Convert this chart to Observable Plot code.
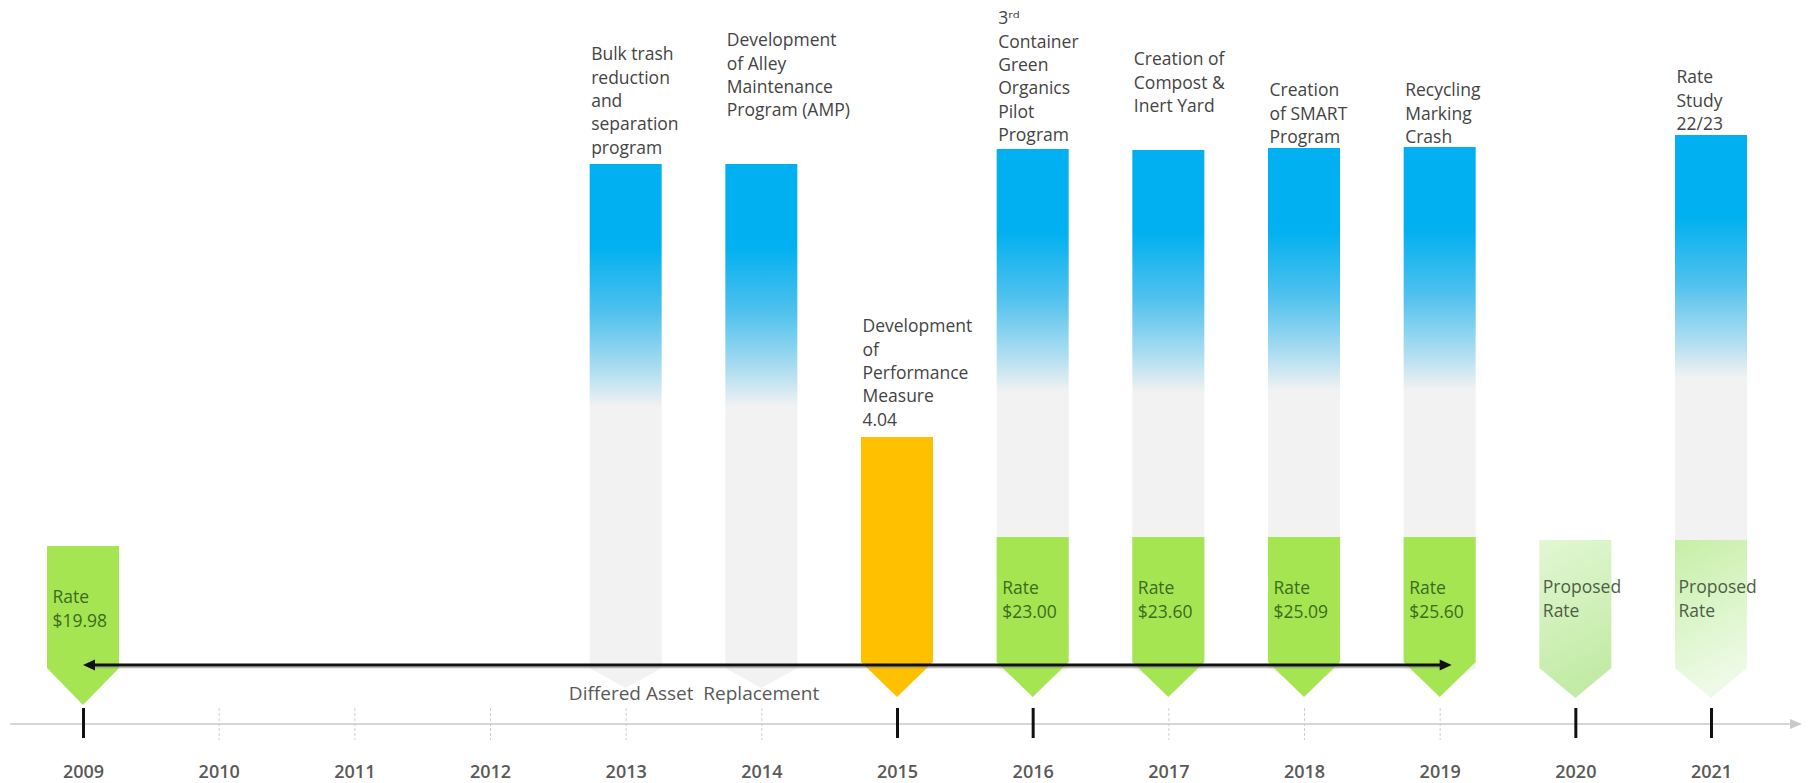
<!DOCTYPE html>
<html><head><meta charset="utf-8">
<script src="https://cdn.jsdelivr.net/npm/d3@7"></script>
<script src="https://cdn.jsdelivr.net/npm/@observablehq/plot@0.6"></script>
<style>
html,body{margin:0;padding:0;background:#fff;overflow:hidden;}
#chart svg{display:block;}
</style></head><body><div id="chart"></div>
<script>
// ================= DATA =================
const years = [2009, 2010, 2011, 2012, 2013, 2014, 2015, 2016, 2017, 2018, 2019, 2020, 2021];
const highlightedYears = [2009, 2015, 2016, 2020, 2021];

const eventYears = [2013, 2014, 2016, 2017, 2018, 2019, 2021];
const eventLabels = [
  "Bulk trash\nreduction\nand\nseparation\nprogram",
  "Development\nof Alley\nMaintenance\nProgram (AMP)",
  "3ʳᵈ\nContainer\nGreen\nOrganics\nPilot\nProgram",
  "Creation of\nCompost &\nInert Yard",
  "Creation\nof SMART\nProgram",
  "Recycling\nMarking\nCrash",
  "Rate\nStudy\n22/23"
];

const milestoneYear = 2015;
const milestoneLabel = "Development\nof\nPerformance\nMeasure\n4.04";

const rateYears = [2009, 2016, 2017, 2018, 2019];
const rateValues = [19.98, 23.00, 23.60, 25.09, 25.60];

const proposedYears = [2020, 2021];
const proposedLabel = "Proposed\nRate";

const deferredSpan = [2013, 2014];
const deferredLabel = "Differed Asset  Replacement";

const rateSpan = [2009, 2019];

// ================= LAYOUT / STYLE =================
const W = 1812, H = 783;
const FONT = "'Open Sans', 'DejaVu Sans', sans-serif";
const HALF = 36;                       // half column width (px)
const FS = 17.5, LH = 1.34;            // label font size / line height
const L = {
  axis: 724, tickTop: 708, tickBottom: 738, yearLabel: 772,
  spanArrow: 665,
  colShoulder: 668, colTip: 688,
  rateTop: 537, rateShoulder: 662, rateTip: 697,
  firstRateTop: 546, firstRateShoulder: 668, firstRateTip: 705,
  msTop: 437, msShoulder: 662, msTip: 697,
  deferredLabel: 693
};
const columnTop = {2013: 164, 2014: 164, 2016: 149, 2017: 150, 2018: 148, 2019: 147, 2021: 135};
const labelLine1 = {2013: 53, 2014: 39, 2015: 325, 2016: 17, 2017: 58, 2018: 89, 2019: 89, 2021: 76};
const C = {
  blue: "#00B0F0", gray: "#F2F2F2", green: "#A6E552", orange: "#FFC000",
  text: "#444444", rateText: "#3B6B1E", propText: "#4E5E47", year: "#595959",
  axis: "#C9C9C9", tickLight: "#CFCFCF"
};
const propGradients = {2020: ["#E2F7D3", "#C2EBA6"], 2021: ["#C6EFA6", "#EEFAE7"]}; // top, bottom

// ================= TABLES =================
const events = eventYears.map((year, i) => ({year, label: eventLabels[i]}));
const rates = rateYears.map((year, i) => ({year, value: rateValues[i]}));
const proposed = proposedYears.map(year => ({year, label: proposedLabel}));
const lightYears = years.filter(y => !highlightedYears.includes(y));

function pentPath(cx, t, s, p) {
  const path = d3.path();
  path.moveTo(cx - HALF, t); path.lineTo(cx + HALF, t); path.lineTo(cx + HALF, s);
  path.lineTo(cx, p); path.lineTo(cx - HALF, s); path.closePath();
  return path.toString();
}

// gradient event columns
const columnsMark = (index, {x, y}) => {
  const g = d3.create("svg:g");
  const defs = g.append("defs");
  for (const e of events) {
    const top = columnTop[e.year];
    const h = L.colTip - top;
    const grad = defs.append("linearGradient").attr("id", "col" + e.year)
      .attr("x1", 0).attr("y1", 0).attr("x2", 0).attr("y2", 1);
    [[0, C.blue], [82 / h, C.blue], [148 / h, "#4FC1EE"], [203 / h, "#A8DCF1"], [243 / h, C.gray], [1, C.gray]]
      .forEach(([o, c]) => grad.append("stop").attr("offset", o).attr("stop-color", c));
    g.append("path").attr("d", pentPath(x(e.year), y(top), y(L.colShoulder), y(L.colTip)))
      .attr("fill", `url(#col${e.year})`);
  }
  return g.node();
};

const milestoneMark = (index, {x, y}) => {
  const g = d3.create("svg:g");
  g.append("path").attr("d", pentPath(x(milestoneYear), y(L.msTop), y(L.msShoulder), y(L.msTip)))
    .attr("fill", C.orange);
  return g.node();
};

const rateTop = d => d.year === rateYears[0] ? L.firstRateTop : L.rateTop;
const ratesMark = (index, {x, y}) => {
  const g = d3.create("svg:g");
  for (const r of rates) {
    const first = r.year === rateYears[0];
    g.append("path").attr("d", pentPath(x(r.year), y(rateTop(r)),
      y(first ? L.firstRateShoulder : L.rateShoulder), y(first ? L.firstRateTip : L.rateTip)))
      .attr("fill", C.green);
  }
  return g.node();
};

const proposedMark = (index, {x, y}) => {
  const g = d3.create("svg:g");
  const defs = g.append("defs");
  for (const p of proposed) {
    const [c0, c1] = propGradients[p.year];
    const grad = defs.append("linearGradient").attr("id", "prop" + p.year)
      .attr("x1", 0).attr("y1", 0).attr("x2", 0.25).attr("y2", 1);
    [[0, c0], [1, c1]].forEach(([o, c]) => grad.append("stop").attr("offset", o).attr("stop-color", c));
    g.append("path").attr("d", pentPath(x(p.year), y(L.rateTop + 3), y(L.firstRateShoulder), y(L.rateTip + 1)))
      .attr("fill", `url(#prop${p.year})`);
  }
  return g.node();
};

const spanArrowMark = (index, {x, y}) => {
  const g = d3.create("svg:g");
  const x0 = x(rateSpan[0]), x1 = x(rateSpan[1]) + 12, yy = y(L.spanArrow);
  g.append("line").attr("x1", x0 + 8).attr("x2", x1 - 8).attr("y1", yy + 2.5).attr("y2", yy + 2.5)
    .attr("stroke", "#9A9A9A").attr("stroke-width", 1.5).attr("opacity", 0.7);
  g.append("line").attr("x1", x0 + 8).attr("x2", x1 - 8).attr("y1", yy).attr("y2", yy)
    .attr("stroke", "#111").attr("stroke-width", 3);
  g.append("path").attr("d", `M${x0},${yy}L${x0 + 12},${yy - 5.5}L${x0 + 12},${yy + 5.5}Z`).attr("fill", "#111");
  g.append("path").attr("d", `M${x1},${yy}L${x1 - 12},${yy - 5.5}L${x1 - 12},${yy + 5.5}Z`).attr("fill", "#111");
  return g.node();
};

const axisMark = (index, {y}, values, {width}) => {
  const g = d3.create("svg:g");
  const yy = y(L.axis);
  g.append("line").attr("x1", 10).attr("x2", width - 20).attr("y1", yy).attr("y2", yy)
    .attr("stroke", C.axis).attr("stroke-width", 1.5);
  g.append("path").attr("d", `M${width - 10},${yy}L${width - 22},${yy - 5}L${width - 22},${yy + 5}Z`).attr("fill", C.axis);
  return g.node();
};

const textBase = {fontFamily: FONT, fontSize: FS, lineHeight: LH, textAnchor: "start", lineAnchor: "top"};
const TOFF = 10; // first-line centre -> text top

const chart = Plot.plot({
  width: W, height: H, margin: 0,
  x: {type: "linear", domain: [years[0], years[years.length - 1]], range: [83, 1711], axis: null},
  y: {type: "linear", domain: [0, H], range: [0, H], axis: null},
  style: {fontFamily: FONT, background: "white", overflow: "visible"},
  marks: [
    columnsMark,
    milestoneMark,
    ratesMark,
    proposedMark,
    Plot.text([deferredSpan], {
      x: d => (d[0] + d[1]) / 2, y: L.deferredLabel, text: () => deferredLabel,
      fontFamily: FONT, fontSize: 19, fill: "#595959"
    }),
    spanArrowMark,
    axisMark,
    Plot.ruleX(lightYears, {x: d => d, y1: L.tickTop, y2: L.tickBottom + 2, stroke: C.tickLight, strokeWidth: 1, strokeDasharray: "3,2"}),
    Plot.ruleX(highlightedYears, {x: d => d, y1: L.tickTop, y2: L.tickBottom, stroke: "#111", strokeWidth: 3}),
    Plot.text(years, {x: d => d, y: L.yearLabel, text: d => String(d), fontFamily: FONT, fontSize: 18, fontWeight: 600, fill: C.year}),
    Plot.text(events, {...textBase, x: "year", y: d => labelLine1[d.year] - TOFF, text: "label", dx: -HALF + 1, fill: C.text}),
    Plot.text([milestoneYear], {...textBase, x: d => d, y: labelLine1[milestoneYear] - TOFF, text: () => milestoneLabel, dx: -HALF + 1, fill: C.text}),
    Plot.text(rates, {...textBase, x: "year", y: d => rateTop(d) + 50 - TOFF, text: d => `Rate\n$${d.value.toFixed(2)}`, dx: -HALF + 5, fill: C.rateText}),
    Plot.text(proposed, {...textBase, x: "year", y: L.rateTop + 49 - TOFF, text: "label", dx: -HALF + 3, fill: C.propText})
  ]
});
document.getElementById("chart").append(chart);
</script>
</body></html>
